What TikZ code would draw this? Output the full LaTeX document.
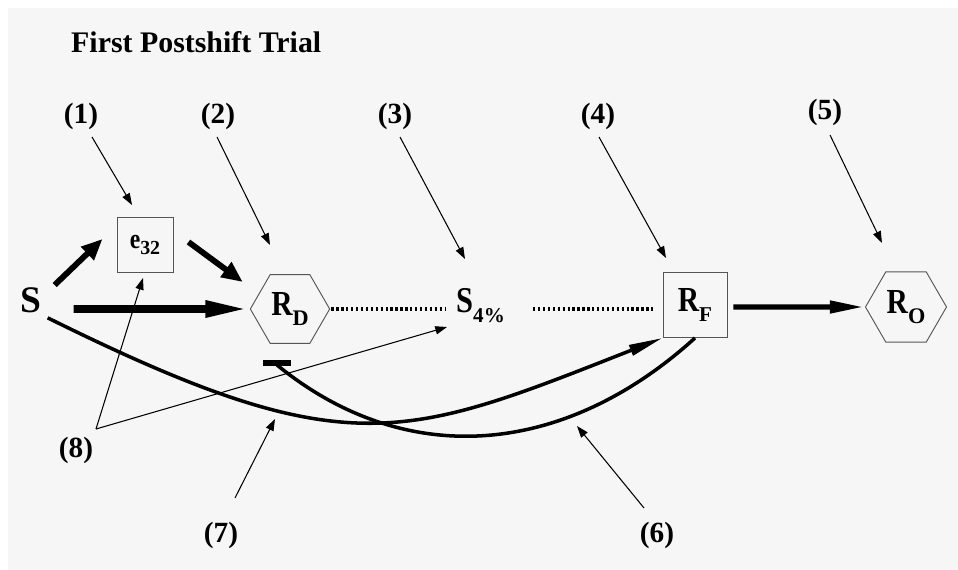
\documentclass[tikz,border=0pt]{standalone}
\usepackage{fontspec}
\setmainfont{Liberation Serif}
\usepackage{graphicx}
\usepackage{tikz}
\usetikzlibrary{shapes.geometric, arrows.meta, calc}
\usepackage{xcolor}
\definecolor{panelgray}{HTML}{F6F6F6}
\definecolor{edgegray}{HTML}{555555}
% tall narrow main letter
\newcommand{\narrow}[1]{\scalebox{0.84}[1]{#1}}
% lowered index: shift, size, text
\newcommand{\lowidx}[3]{\raisebox{-#1}{\fontsize{#2}{#2}\selectfont #3}}

\begin{document}
\begin{tikzpicture}[
    x=0.03cm, y=-0.03cm,
    hexnode/.style={regular polygon, regular polygon sides=6, draw=edgegray, line width=0.8pt, minimum size=2.38cm, inner sep=0pt, font=\fontsize{30}{30}\selectfont\bfseries},
    boxnode/.style={draw=edgegray, line width=0.8pt, inner sep=0pt, font=\fontsize{30}{30}\selectfont\bfseries},
    stim/.style={inner sep=0pt, font=\fontsize{32}{32}\selectfont\bfseries},
    tag/.style={inner sep=1pt, font=\fontsize{25}{25}\selectfont\bfseries},
    heavy/.style={-{Triangle[length=38pt,width=13pt]}, line width=6.8pt},
    medium/.style={-{Triangle[length=18pt,width=15pt]}, line width=5pt},
    outlink/.style={-{Triangle[length=30pt,width=10pt]}, line width=4.6pt},
    curved/.style={line width=3pt},
    dotlink/.style={line width=2.6pt, dash pattern=on 2pt off 2.2pt},
    pointer/.style={-{Triangle[length=10pt,width=7pt]}, line width=0.9pt}
]

% Panel
\useasboundingbox (0,0) rectangle (958,570);
\fill[panelgray] (8,8) rectangle (958,570);

% Title
\node[anchor=west, inner sep=0pt, font=\fontsize{25.5}{25.5}\selectfont\bfseries] (title) at (71,42) {First Postshift Trial};

% Stimuli and responses
\node[stim] (S) at (31,300) {S};
\node[boxnode, minimum width=1.68cm, minimum height=1.65cm, font=\fontsize{24}{24}\selectfont\bfseries] (e32) at (145,245) {\narrow{e}\lowidx{5pt}{17}{32}};
\node[hexnode] (RD) at (290,309) {\narrow{R}\lowidx{8.5pt}{19}{D}};
\node[stim, anchor=base west, font=\fontsize{31}{31}\selectfont\bfseries] (S4) at (456,313) {\narrow{S}\lowidx{8.5pt}{18}{4\%}};
\node[boxnode, minimum width=1.92cm, minimum height=1.95cm] (RF) at (695,305) {\narrow{R}\lowidx{8.5pt}{18}{F}};
\node[hexnode, minimum size=2.43cm] (RO) at (906,307) {\narrow{R}\lowidx{8.5pt}{19}{O}};

% Number tags
\node[tag] (l1) at (81,116) {(1)};
\node[tag] (l2) at (218,116) {(2)};
\node[tag] (l3) at (395,116) {(3)};
\node[tag] (l4) at (598,116) {(4)};
\node[tag] (l5) at (825,112) {(5)};
\node[tag] (l6) at (657,535) {(6)};
\node[tag] (l7) at (221,535) {(7)};
\node[tag] (l8) at (76,450) {(8)};

% Pointer tips
\coordinate (t1) at (132,205);
\coordinate (t2) at (270,245);
\coordinate (t3) at (465,259);
\coordinate (t4) at (666,258);
\coordinate (t5) at (882,243);
\coordinate (t6) at (577,426);
\coordinate (t7) at (275,419);
\coordinate (t8a) at (143,278);
\coordinate (t8b) at (447,327);
\coordinate (bar) at (277,365);

% Main links
\draw[medium] ($(S.east)+(13,-15)$) -- ($(e32.west)+(-14,-6)$);
\draw[medium] ($(e32.east)+(15,-3)$) -- ($(RD.west)+(-7,-27)$);
\draw[heavy] ($(S.east)+(32,9)$) -- (RD.west);
\draw[outlink] ($(RF.east)+(6,2)$) -- (RO.west);

% Dotted chain
\draw[dotlink, shorten <=1pt, shorten >=9pt] (RD.east) -- (RD.east -| S4.west);
\draw[dotlink, shorten >=8pt] ($(S4.east |- RD.east)+(28,0)$) -- (RF.west |- RD.east);

% Curves
\draw[curved, -{Triangle[length=29pt,width=9pt]}] ($(S.south east)+(6,5)$) .. controls (347,466) and (403,440) .. (RF.south west);
\draw[curved] (RF.south) .. controls (565,456) and (407,471) .. (bar);
\draw[line width=4.4pt] ($(bar)+(-14,-2)$) -- ($(bar)+(14,-2)$);

% Pointers
\draw[pointer] ($(l1)+(11,21)$) -- (t1);
\draw[pointer] ($(l2)+(-1,21)$) -- (t2);
\draw[pointer] ($(l3)+(5,21)$) -- (t3);
\draw[pointer] ($(l4)+(1,21)$) -- (t4);
\draw[pointer] ($(l5)+(5,23)$) -- (t5);
\draw[pointer] ($(l6)+(-13,-27)$) -- (t6);
\draw[pointer] ($(l7)+(14,-37)$) -- (t7);
\draw[pointer] ($(l8)+(20,-21)$) -- (t8a);
\draw[pointer] ($(l8)+(20,-21)$) -- (t8b);

\end{tikzpicture}
\end{document}
